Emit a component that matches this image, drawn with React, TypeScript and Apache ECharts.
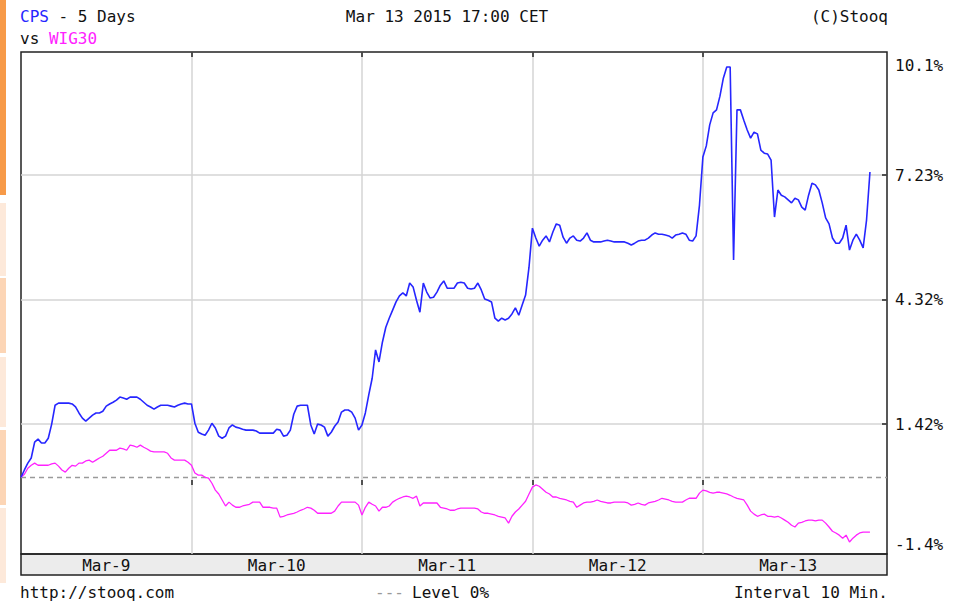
import React, { useEffect, useRef } from "react";
import * as echarts from "echarts";

// ---- data ----
const dayLabels = ["Mar-9", "Mar-10", "Mar-11", "Mar-12", "Mar-13"];
const SLOTS_PER_DAY = 50;
const TRAILING_SLOTS = 5;

// CPS, % change (10-minute bars)
const cpsMar9 = [0.18,0.35,0.51,0.63,1.00,1.07,0.98,0.98,1.09,1.42,1.86,1.91,1.91,1.91,1.91,1.89,1.82,1.68,1.56,1.49,1.56,1.63,1.68,1.68,1.72,1.84,1.89,1.93,1.98,2.05,2.03,2.00,2.05,2.05,2.05,2.00,1.93,1.86,1.82,1.77,1.82,1.86,1.86,1.86,1.84,1.82,1.86,1.89,1.91,1.89];
const cpsMar10 = [1.89,1.44,1.23,1.19,1.16,1.28,1.44,1.33,1.14,1.09,1.14,1.33,1.40,1.35,1.33,1.30,1.28,1.28,1.28,1.26,1.21,1.21,1.21,1.21,1.21,1.30,1.28,1.14,1.16,1.28,1.65,1.84,1.86,1.86,1.86,1.40,1.19,1.42,1.40,1.35,1.14,1.23,1.37,1.47,1.70,1.75,1.75,1.70,1.56,1.28];
const cpsMar11 = [1.40,1.68,2.10,2.49,3.15,2.87,3.33,3.68,3.89,4.08,4.27,4.41,4.48,4.41,4.71,4.62,4.31,4.03,4.71,4.50,4.36,4.38,4.50,4.66,4.76,4.59,4.59,4.59,4.71,4.73,4.71,4.59,4.57,4.59,4.71,4.55,4.34,4.31,4.27,3.89,3.82,3.89,3.85,3.89,3.99,4.13,3.96,4.20,4.43,5.08];
const cpsMar12 = [5.99,5.76,5.57,5.71,5.81,5.67,5.90,6.09,6.06,5.78,5.64,5.76,5.81,5.71,5.69,5.76,5.88,5.71,5.67,5.67,5.67,5.69,5.71,5.69,5.67,5.67,5.67,5.67,5.64,5.60,5.64,5.69,5.71,5.71,5.76,5.83,5.88,5.85,5.85,5.83,5.81,5.76,5.83,5.85,5.88,5.85,5.71,5.69,5.81,6.53];
const cpsMar13 = [7.65,7.91,8.40,8.68,8.75,9.07,9.49,9.75,9.75,5.25,8.75,8.75,8.51,8.28,8.09,8.23,8.19,7.81,7.74,7.72,7.58,6.25,6.88,6.76,6.72,6.65,6.58,6.69,6.65,6.48,6.41,6.76,7.04,7.00,6.88,6.58,6.23,6.09,5.76,5.64,5.64,5.76,6.06,5.48,5.71,5.85,5.71,5.53,6.18,7.30];

// WIG30, % change
const wigMar9 = [0.18,0.25,0.39,0.46,0.51,0.46,0.46,0.46,0.46,0.49,0.51,0.44,0.35,0.30,0.39,0.46,0.44,0.51,0.51,0.56,0.58,0.53,0.58,0.63,0.67,0.74,0.81,0.81,0.81,0.86,0.84,0.81,0.93,0.91,0.88,0.93,0.88,0.84,0.79,0.77,0.77,0.77,0.77,0.74,0.63,0.58,0.58,0.58,0.58,0.53];
const wigMar10 = [0.46,0.28,0.23,0.23,0.18,0.16,0.04,-0.12,-0.21,-0.35,-0.49,-0.40,-0.47,-0.52,-0.52,-0.49,-0.47,-0.45,-0.40,-0.40,-0.40,-0.52,-0.52,-0.52,-0.54,-0.54,-0.75,-0.73,-0.70,-0.68,-0.66,-0.63,-0.59,-0.56,-0.52,-0.54,-0.59,-0.66,-0.66,-0.66,-0.66,-0.66,-0.61,-0.49,-0.40,-0.40,-0.40,-0.40,-0.40,-0.47];
const wigMar11 = [-0.70,-0.52,-0.40,-0.45,-0.49,-0.61,-0.52,-0.52,-0.49,-0.40,-0.35,-0.31,-0.28,-0.26,-0.28,-0.31,-0.26,-0.49,-0.42,-0.42,-0.42,-0.42,-0.42,-0.52,-0.54,-0.56,-0.59,-0.59,-0.56,-0.54,-0.54,-0.54,-0.54,-0.54,-0.56,-0.63,-0.66,-0.66,-0.68,-0.70,-0.73,-0.75,-0.77,-0.89,-0.73,-0.63,-0.56,-0.47,-0.38,-0.21];
const wigMar12 = [-0.05,0.00,-0.03,-0.10,-0.17,-0.21,-0.28,-0.28,-0.31,-0.33,-0.35,-0.38,-0.40,-0.52,-0.47,-0.42,-0.40,-0.40,-0.38,-0.35,-0.38,-0.40,-0.42,-0.42,-0.40,-0.40,-0.40,-0.40,-0.42,-0.47,-0.45,-0.42,-0.45,-0.47,-0.42,-0.40,-0.38,-0.35,-0.31,-0.33,-0.35,-0.38,-0.40,-0.40,-0.40,-0.35,-0.31,-0.31,-0.31,-0.19];
const wigMar13 = [-0.12,-0.14,-0.17,-0.19,-0.17,-0.17,-0.19,-0.21,-0.24,-0.28,-0.31,-0.33,-0.35,-0.47,-0.61,-0.68,-0.73,-0.70,-0.68,-0.73,-0.73,-0.75,-0.73,-0.77,-0.82,-0.87,-0.94,-0.98,-0.89,-0.87,-0.84,-0.82,-0.82,-0.84,-0.82,-0.82,-0.89,-0.98,-1.08,-1.12,-1.17,-1.24,-1.17,-1.33,-1.24,-1.17,-1.12,-1.10,-1.10,-1.10];

const yTickValues = [1.42, 4.32, 7.23];
const yLabelValues = [-1.4, 1.42, 4.32, 7.23, 10.1];
const yLabelTexts = ["-1.4%", "1.42%", "4.32%", "7.23%", "10.1%"];
const levelValue = 0.18;
const Y_MIN = -1.61;
const Y_MAX = 10.1;

const FONT = "'DejaVu Sans Mono', monospace";
const BLUE = "#2626ff";
const MAGENTA = "#ff22ff";

function buildCategories(): string[] {
  const cats: string[] = [];
  dayLabels.forEach((d) => {
    for (let j = 0; j < SLOTS_PER_DAY; j++) {
      const mins = 9 * 60 + j * 10;
      const hh = String(Math.floor(mins / 60)).padStart(2, "0");
      const mm = String(mins % 60).padStart(2, "0");
      cats.push(`${d} ${hh}:${mm}`);
    }
  });
  for (let k = 0; k < TRAILING_SLOTS; k++) cats.push(`end ${k}`);
  return cats;
}

export default function App() {
  const ref = useRef<HTMLDivElement>(null);
  useEffect(() => {
    if (!ref.current) return;
    const chart = echarts.init(ref.current, undefined, { renderer: "svg" });
    const categories = buildCategories();
    const cps = [...cpsMar9, ...cpsMar10, ...cpsMar11, ...cpsMar12, ...cpsMar13];
    const wig = [...wigMar9, ...wigMar10, ...wigMar11, ...wigMar12, ...wigMar13];
    const nData = dayLabels.length * SLOTS_PER_DAY;
    const isBoundary = (i: number) => i % SLOTS_PER_DAY === 0 && i > 0 && i < nData;
    const isLabel = (i: number) => i % SLOTS_PER_DAY === SLOTS_PER_DAY / 2 && i < nData;

    const leftBars = [
      { y: 0, h: 195, c: "#f79a48" },
      { y: 203, h: 73, c: "#fde9da" },
      { y: 278, h: 75, c: "#fcd5b5" },
      { y: 357, h: 70, c: "#fde9da" },
      { y: 430, h: 75, c: "#fcd5b5" },
      { y: 508, h: 75, c: "#fde9da" },
    ];

    const txt = (x: number, y: number, text: string, align: string, fill = "#111", rich?: any) => ({
      type: "text",
      x,
      y,
      z: 10,
      style: {
        text,
        fill,
        fontFamily: FONT,
        fontSize: 16,
        align,
        verticalAlign: "middle",
        rich,
      },
    });

    const richTok = (fill: string) => ({ fill, fontFamily: FONT, fontSize: 16 });

    chart.setOption({
      animation: false,
      backgroundColor: "#fff",
      grid: {
        left: 21,
        right: 68,
        top: 52,
        bottom: 48,
        show: true,
        borderColor: "#222",
        borderWidth: 1.5,
        backgroundColor: "transparent",
      },
      xAxis: [
        {
          type: "category",
          data: categories,
          boundaryGap: false,
          position: "bottom",
          axisLine: { show: false },
          axisTick: {
            show: true,
            inside: true,
            length: 5,
            interval: (i: number) => isBoundary(i),
            lineStyle: { color: "#222", width: 1.5 },
          },
          axisLabel: {
            interval: (i: number) => isLabel(i),
            formatter: (v: string) => v.split(" ")[0],
            fontFamily: FONT,
            fontSize: 16,
            color: "#111",
            margin: 3,
          },
          splitLine: {
            show: true,
            interval: (i: number) => isBoundary(i),
            lineStyle: { color: "#d4d4d4", width: 1.5 },
          },
        },
        {
          type: "category",
          data: categories,
          boundaryGap: false,
          position: "top",
          axisLine: { show: false },
          axisLabel: { show: false },
          splitLine: { show: false },
          axisTick: {
            show: true,
            inside: true,
            length: 5,
            interval: (i: number) => isBoundary(i),
            lineStyle: { color: "#222", width: 1.5 },
          },
        },
      ],
      yAxis: {
        type: "value",
        position: "right",
        min: Y_MIN,
        max: Y_MAX,
        axisLine: { show: false },
        axisTick: {
          show: true,
          inside: true,
          length: 5,
          customValues: yTickValues,
          lineStyle: { color: "#222", width: 1.5 },
        },
        axisLabel: {
          customValues: yLabelValues,
          margin: 8,
          fontFamily: FONT,
          fontSize: 16,
          color: "#111",
          formatter: (v: number) => {
            const idx = yLabelValues.findIndex((t) => Math.abs(t - v) < 1e-6);
            const s = idx >= 0 ? yLabelTexts[idx] : "";
            return v === Y_MAX ? `{top|${s}}` : s;
          },
          rich: {
            top: { padding: [26, 0, 0, 0], fontFamily: FONT, fontSize: 16, color: "#111" },
          },
        },
        splitLine: { show: true, lineStyle: { color: "#d4d4d4", width: 1.5 } },
      },
      series: [
        {
          name: "WIG30",
          type: "line",
          data: wig,
          showSymbol: false,
          symbol: "none",
          z: 2,
          lineStyle: { color: MAGENTA, width: 1.3 },
          markLine: {
            silent: true,
            symbol: ["none", "none"],
            label: { show: false },
            lineStyle: { color: "#9a9a9a", type: [5, 4], width: 1.3 },
            data: [{ yAxis: levelValue }],
            z: 1,
          },
        },
        {
          name: "CPS",
          type: "line",
          data: cps,
          showSymbol: false,
          symbol: "none",
          z: 3,
          lineStyle: { color: BLUE, width: 1.6 },
        },
      ],
      graphic: [
        ...leftBars.map((b) => ({
          type: "rect",
          shape: { x: 0, y: b.y, width: 6, height: b.h },
          style: { fill: b.c },
          z: 0,
        })),
        {
          type: "rect",
          shape: { x: 21, y: 554, width: 866, height: 21 },
          style: { fill: "#ececec", stroke: "#222", lineWidth: 1.5 },
          z: -1,
        },
        txt(20, 16, "{c|CPS}{k| - 5 Days}", "left", "#111", { c: richTok(BLUE), k: richTok("#111") }),
        txt(20, 38, "{k|vs }{w|WIG30}", "left", "#111", { k: richTok("#111"), w: richTok(MAGENTA) }),
        txt(447, 16, "Mar 13 2015 17:00 CET", "center"),
        txt(888, 16, "(C)Stooq", "right"),
        txt(20, 592, "http://stooq.com", "left"),
        txt(375, 592, "---", "left", "#9a9a9a"),
        txt(412, 592, "Level 0%", "left"),
        txt(888, 592, "Interval 10 Min.", "right"),
      ],
    });
    return () => chart.dispose();
  }, []);
  return (
    <div
      ref={ref}
      style={{ position: "absolute", left: 0, top: 0, width: 955, height: 602 }}
    />
  );
}
